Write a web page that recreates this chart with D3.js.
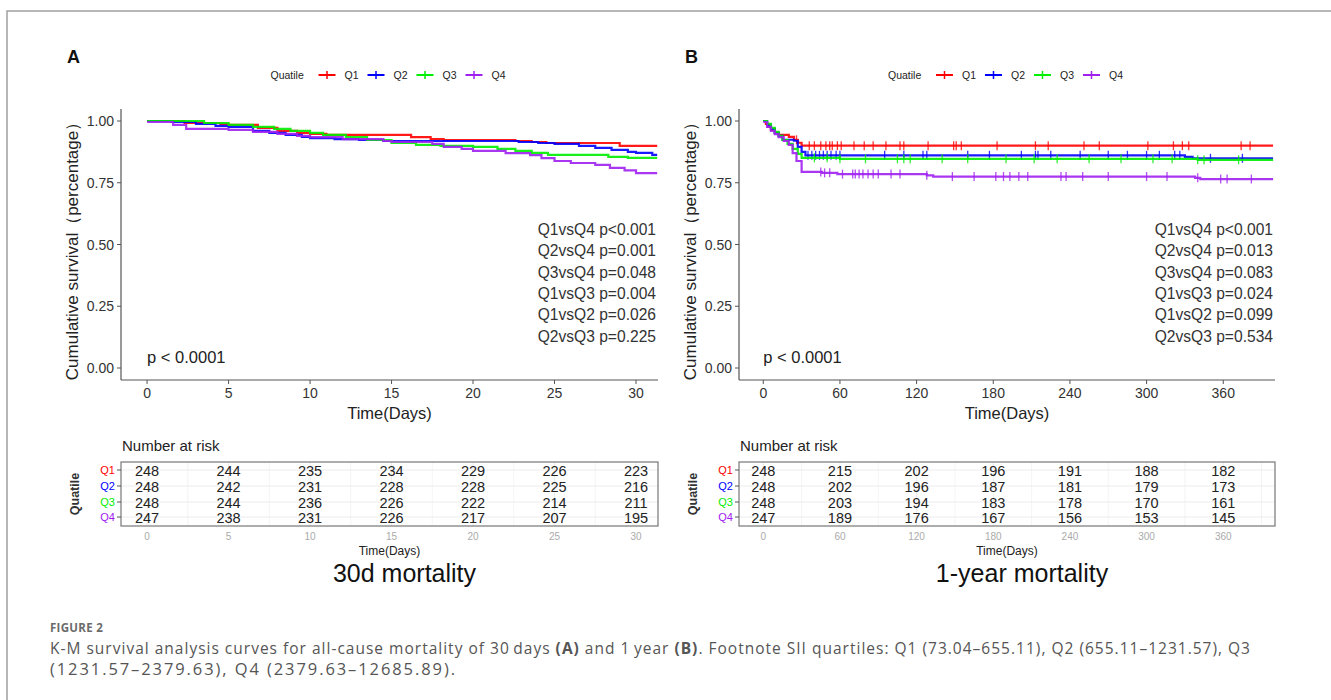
<!DOCTYPE html>
<html>
<head>
<meta charset="utf-8">
<script src="https://cdn.jsdelivr.net/npm/d3@7"></script>
<style>
  body { margin: 0; background: #fff; }
  svg text { font-family: "Liberation Sans", Arial, sans-serif; }
  .caption text { font-family: "Open Sans", Lato, sans-serif; }
</style>
</head>
<body>
<svg id="chart" width="1331" height="700"></svg>
<script>
const groups = ['Q1', 'Q2', 'Q3', 'Q4']
const colors = ['#ff0000', '#0000ff', '#00ee00', '#a020f0']

// 30-day KM steps [day, survival]
const q1_30d = [[0,1],[2.3,0.992],[4.5,0.988],[5,0.984],[6.8,0.972],[8,0.96],[9.2,0.952],[10,0.948],[11,0.944],[16.2,0.935],[17.4,0.927],[18.2,0.923],[22.6,0.919],[23.6,0.915],[24.5,0.911],[29,0.899]]
const q2_30d = [[0,1],[1.5,0.996],[3,0.988],[4.2,0.98],[5,0.976],[6.5,0.96],[7.5,0.952],[8.5,0.944],[9.5,0.936],[10,0.931],[11.5,0.927],[13,0.923],[14.5,0.919],[22.8,0.915],[24,0.911],[25,0.907],[26.5,0.899],[27.5,0.891],[28.5,0.883],[29.5,0.875],[30,0.871],[31,0.863]]
const q3_30d = [[0,1],[3.5,0.992],[5,0.984],[6.5,0.976],[7.8,0.968],[8.8,0.96],[10,0.952],[10.8,0.944],[12.2,0.935],[13.5,0.923],[15,0.911],[16.5,0.903],[18,0.899],[20,0.895],[21.5,0.887],[22.6,0.879],[23.6,0.871],[24.6,0.863],[28.3,0.855],[29.5,0.851]]
const q4_30d = [[0,0.996],[1.6,0.984],[2.4,0.968],[5,0.964],[6.5,0.956],[8,0.948],[9.2,0.94],[10,0.935],[12,0.927],[14.5,0.919],[15,0.915],[17.5,0.907],[18.2,0.895],[19.3,0.887],[20,0.879],[22,0.87],[23.5,0.862],[24.2,0.85],[25,0.838],[26,0.83],[27.5,0.822],[28.4,0.81],[29.3,0.8],[30,0.789]]

// 1-year KM steps
const q1_1y = [[0,1],[2,0.988],[4,0.976],[6,0.964],[9,0.952],[12,0.944],[20,0.936],[24,0.924],[27,0.912],[30,0.9]]
const q2_1y = [[0,1],[3,0.984],[6,0.968],[9,0.952],[12,0.94],[15,0.924],[24,0.92],[27,0.895],[30,0.875],[33,0.861],[330,0.855],[336,0.849]]
const q3_1y = [[0,1],[3,0.988],[6,0.972],[9,0.956],[12,0.94],[15,0.923],[19,0.907],[23,0.887],[27,0.867],[30,0.851],[60,0.847],[340,0.843]]
const q4_1y = [[0,0.996],[3,0.976],[6,0.96],[9,0.947],[12,0.935],[16,0.919],[20,0.903],[23,0.87],[26,0.838],[30,0.794],[46,0.79],[58,0.785],[128,0.78],[133,0.775],[338,0.77],[342,0.765]]

// censor times (1-year)
const q1_1y_cens = [26,36,40,45,49,52,54,58,61,71,79,86,96,107,110,129,149,151,155,183,213,223,251,263,301,321,328,333,374,381]
const q2_1y_cens = [35,38,41,44,47,50,53,57,60,95,110,125,128,160,177,202,213,215,225,248,270,285,300,310,322,326,350,375]
const q3_1y_cens = [40,50,60,80,105,110,115,140,160,190,212,230,255,280,305,320,340,345,372]
const q4_1y_cens = [45,48,52,62,70,72,75,78,82,86,90,100,107,128,148,165,182,188,193,200,207,233,237,250,270,300,316,340,358,363,382]

const riskTimes30 = [0, 5, 10, 15, 20, 25, 30]
const risk30 = [
  [248, 244, 235, 234, 229, 226, 223],
  [248, 242, 231, 228, 228, 225, 216],
  [248, 244, 236, 226, 222, 214, 211],
  [247, 238, 231, 226, 217, 207, 195]
]
const riskTimes1y = [0, 60, 120, 180, 240, 300, 360]
const risk1y = [
  [248, 215, 202, 196, 191, 188, 182],
  [248, 202, 196, 187, 181, 179, 173],
  [248, 203, 194, 183, 178, 170, 161],
  [247, 189, 176, 167, 156, 153, 145]
]

const pvals30 = ['Q1vsQ4 p<0.001', 'Q2vsQ4 p=0.001', 'Q3vsQ4 p=0.048', 'Q1vsQ3 p=0.004', 'Q1vsQ2 p=0.026', 'Q2vsQ3 p=0.225']
const pvals1y = ['Q1vsQ4 p<0.001', 'Q2vsQ4 p=0.013', 'Q3vsQ4 p=0.083', 'Q1vsQ3 p=0.024', 'Q1vsQ2 p=0.099', 'Q2vsQ3 p=0.534']
const yTicks = [0, 0.25, 0.5, 0.75, 1]

const svg = d3.select('#chart')

// frame
svg.append('path')
  .attr('d', 'M7,700 V11 H1331')
  .attr('fill', 'none')
  .attr('stroke', '#a0a0a0')
  .attr('stroke-width', 1.5)

function drawPanel(cfg) {
  const { left, right, letter, domain, endT, ticks, curves, censors, riskTimes, risk, pvals, title } = cfg
  const g = svg.append('g')
  const x = d3.scaleLinear().domain(domain).range([left, right])
  const y = d3.scaleLinear().domain([0, 1]).range([368, 121])
  const mid = (left + right) / 2

  g.append('text').attr('x', left - 54).attr('y', 63)
    .attr('font-size', 18).attr('font-weight', 'bold').attr('fill', '#111')
    .text(letter)

  // legend
  const leg = g.append('g').attr('transform', `translate(${mid - 119},75)`)
  leg.append('text').attr('x', 0).attr('y', 4).attr('font-size', 10.5).attr('fill', '#222').text('Quatile')
  groups.forEach((q, i) => {
    const lx = 48 + i * 49
    leg.append('line').attr('x1', lx).attr('x2', lx + 17).attr('y1', 0).attr('y2', 0)
      .attr('stroke', colors[i]).attr('stroke-width', 2)
    leg.append('line').attr('x1', lx + 8.5).attr('x2', lx + 8.5).attr('y1', -4).attr('y2', 4)
      .attr('stroke', colors[i]).attr('stroke-width', 1.5)
    leg.append('text').attr('x', lx + 26).attr('y', 4).attr('font-size', 10.5).attr('fill', '#222').text(q)
  })

  // axes
  const axisCol = '#555'
  g.append('line').attr('x1', left).attr('x2', left).attr('y1', 109).attr('y2', 380)
    .attr('stroke', axisCol).attr('stroke-width', 1.2)
  g.append('line').attr('x1', left).attr('x2', right).attr('y1', 380).attr('y2', 380)
    .attr('stroke', axisCol).attr('stroke-width', 1.2)
  yTicks.forEach(t => {
    g.append('line').attr('x1', left - 4).attr('x2', left).attr('y1', y(t)).attr('y2', y(t))
      .attr('stroke', axisCol)
    g.append('text').attr('x', left - 7).attr('y', y(t) + 5).attr('text-anchor', 'end')
      .attr('font-size', 14).attr('fill', '#333').text(d3.format('.2f')(t))
  })
  ticks.forEach(t => {
    g.append('line').attr('x1', x(t)).attr('x2', x(t)).attr('y1', 380).attr('y2', 384)
      .attr('stroke', axisCol)
    g.append('text').attr('x', x(t)).attr('y', 398).attr('text-anchor', 'middle')
      .attr('font-size', 14).attr('fill', '#333').text(t)
  })
  g.append('text').attr('x', mid).attr('y', 419).attr('text-anchor', 'middle')
    .attr('font-size', 16.5).attr('fill', '#222').text('Time(Days)')
  g.append('text').attr('transform', `translate(${left - 43},${247}) rotate(-90)`)
    .attr('text-anchor', 'middle').attr('font-size', 17).attr('fill', '#222')
    .text('Cumulative survival（percentage）')

  // curves
  const line = d3.line().x(d => x(d[0])).y(d => y(d[1])).curve(d3.curveStepAfter)
  curves.forEach((c, i) => {
    const pts = c.concat([[endT, c[c.length - 1][1]]])
    g.append('path').attr('d', line(pts)).attr('fill', 'none')
      .attr('stroke', colors[i]).attr('stroke-width', 2.2).attr('opacity', 0.9)
    if (censors) {
      censors[i].forEach(t => {
        const s = c.filter(d => d[0] <= t).pop()[1]
        g.append('line').attr('x1', x(t)).attr('x2', x(t))
          .attr('y1', y(s) - 4.5).attr('y2', y(s) + 4.5)
          .attr('stroke', colors[i]).attr('stroke-width', 1.3).attr('opacity', 0.8)
      })
    }
  })

  // annotations
  pvals.forEach((p, i) => {
    g.append('text').attr('x', right - 2).attr('y', 235 + i * 21.3).attr('text-anchor', 'end')
      .attr('font-size', 15.6).attr('fill', '#333').text(p)
  })
  g.append('text').attr('x', x(0)).attr('y', 363).attr('font-size', 16.5).attr('fill', '#222')
    .text('p < 0.0001')

  // risk table
  g.append('text').attr('x', left + 1).attr('y', 451).attr('font-size', 15).attr('fill', '#222')
    .text('Number at risk')
  const rowY = [470, 486, 502, 517]
  const gridCol = '#ececec'
  d3.range(domain[0] < 0 ? ticks[0] : 0, domain[1], (ticks[1] - ticks[0]) / 2).forEach(t => {
    g.append('line').attr('x1', x(t)).attr('x2', x(t)).attr('y1', 462).attr('y2', 526)
      .attr('stroke', gridCol).attr('stroke-width', t % (ticks[1] - ticks[0]) === 0 ? 1 : 0.6)
  })
  rowY.forEach(ry => {
    g.append('line').attr('x1', left).attr('x2', right).attr('y1', ry).attr('y2', ry)
      .attr('stroke', gridCol)
  })
  g.append('rect').attr('x', left).attr('y', 462).attr('width', right - left).attr('height', 64)
    .attr('fill', 'none').attr('stroke', '#777').attr('stroke-width', 1.2)
  groups.forEach((q, i) => {
    g.append('line').attr('x1', left - 4).attr('x2', left).attr('y1', rowY[i]).attr('y2', rowY[i])
      .attr('stroke', '#555')
    g.append('text').attr('x', left - 6).attr('y', rowY[i] + 4).attr('text-anchor', 'end')
      .attr('font-size', 11).attr('fill', colors[i]).text(q)
    riskTimes.forEach((t, j) => {
      g.append('text').attr('x', x(t)).attr('y', rowY[i] + 5.5).attr('text-anchor', 'middle')
        .attr('font-size', 14.5).attr('fill', '#222').text(risk[i][j])
    })
  })
  ticks.forEach(t => {
    g.append('text').attr('x', x(t)).attr('y', 540).attr('text-anchor', 'middle')
      .attr('font-size', 10).attr('fill', '#aaa').text(t)
  })
  g.append('text').attr('x', mid).attr('y', 555).attr('text-anchor', 'middle')
    .attr('font-size', 12).attr('fill', '#222').text('Time(Days)')
  g.append('text').attr('transform', `translate(${left - 42},${494}) rotate(-90)`)
    .attr('text-anchor', 'middle').attr('font-size', 12.5).attr('font-weight', 'bold')
    .attr('fill', '#333').text('Quatile')
  g.append('text').attr('x', mid + 15).attr('y', 582).attr('text-anchor', 'middle')
    .attr('font-size', 25).attr('fill', '#111').text(title)
}

drawPanel({
  left: 121, right: 658, letter: 'A', domain: [-1.6, 31.35], endT: 31.3,
  ticks: riskTimes30, curves: [q1_30d, q2_30d, q3_30d, q4_30d], censors: null,
  riskTimes: riskTimes30, risk: risk30, pvals: pvals30, title: '30d mortality'
})
drawPanel({
  left: 739, right: 1275, letter: 'B', domain: [-19, 400.5], endT: 399,
  ticks: riskTimes1y, curves: [q1_1y, q2_1y, q3_1y, q4_1y],
  censors: [q1_1y_cens, q2_1y_cens, q3_1y_cens, q4_1y_cens],
  riskTimes: riskTimes1y, risk: risk1y, pvals: pvals1y, title: '1-year mortality'
})

// caption
const cap = svg.append('g').attr('class', 'caption')
cap.append('text').attr('x', 50).attr('y', 632).attr('font-size', 11.5)
  .attr('font-weight', 'bold').attr('fill', '#6b6b6b').attr('letter-spacing', 0.3).text('FIGURE 2')
const l1 = cap.append('text').attr('x', 50).attr('y', 654).attr('font-size', 15.5).attr('fill', '#555')
  .attr('textLength', 1200).attr('lengthAdjust', 'spacing')
l1.append('tspan').text('K-M survival analysis curves for all-cause mortality of 30\u2009days ')
l1.append('tspan').attr('font-weight', 'bold').text('(A)')
l1.append('tspan').text(' and 1\u2009year ')
l1.append('tspan').attr('font-weight', 'bold').text('(B)')
l1.append('tspan').text('. Footnote SII quartiles: Q1 (73.04\u2013655.11), Q2 (655.11\u20131231.57), Q3')
cap.append('text').attr('x', 50).attr('y', 675).attr('font-size', 16.5).attr('fill', '#555')
  .attr('textLength', 405).attr('lengthAdjust', 'spacing')
  .text('(1231.57\u20132379.63), Q4 (2379.63\u201312685.89).')
</script>
</body>
</html>
